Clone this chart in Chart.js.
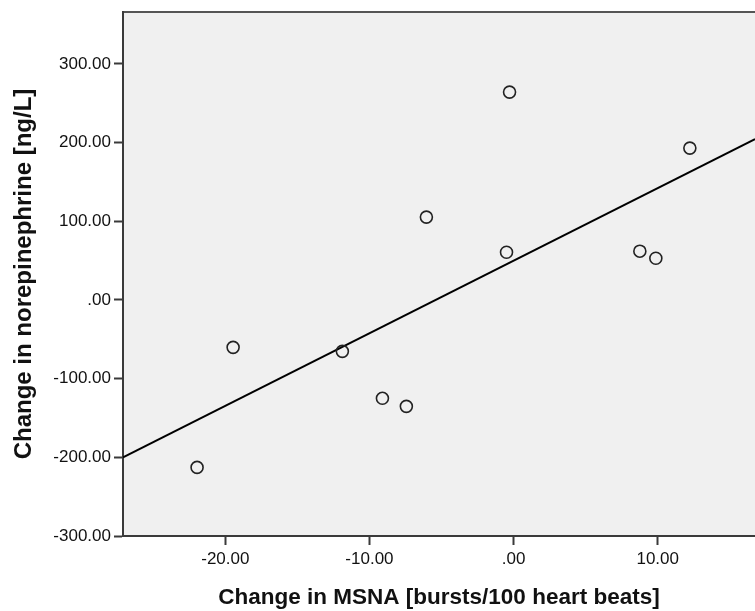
<!DOCTYPE html>
<html lang="en">
    <head>
        <meta charset="UTF-8" />
        <title>MSNA vs norepinephrine</title>
        <script src="https://cdn.jsdelivr.net/npm/chart.js"></script>
        <style>
            html, body { margin: 0; padding: 0; background: #fff; overflow: hidden; }
            canvas { display: block; }
        </style>
    </head>
    <body>
        <canvas id="chart" width="755" height="611"></canvas>
        <script>
            // change in MSNA (bursts/100 heart beats) and norepinephrine (ng/L)
            const msna = [-21.96, -19.46, -11.88, -9.1, -7.44, -6.05, -0.49, -0.28, 8.76, 9.87, 12.23];
            const norepi = [-212.8, -60.2, -65.3, -125, -135.2, 105.3, 60.7, 264.2, 62, 53, 193];
            // fit line end points
            const fitX = [-27.1, 16.75];
            const fitY = [-200, 204.5];
            const xTicks = [-20, -10, 0, 10];
            const yTicks = [-300, -200, -100, 0, 100, 200, 300];

            const fontFamily = "'Liberation Sans', Arial, sans-serif";

            function fmt(v) {
                return v === 0 ? ".00" : v.toFixed(2);
            }

            const plotBg = {
                id: "plotBg",
                beforeDraw(chart) {
                    const { ctx, chartArea: a } = chart;
                    ctx.save();
                    ctx.fillStyle = "#f0f0f0";
                    ctx.fillRect(a.left, a.top, a.right - a.left, a.bottom - a.top);
                    ctx.strokeStyle = "#555";
                    ctx.lineWidth = 2;
                    ctx.beginPath();
                    ctx.moveTo(a.left, a.top);
                    ctx.lineTo(a.right, a.top);
                    ctx.stroke();
                    ctx.restore();
                },
            };

            new Chart(document.getElementById("chart"), {
                type: "scatter",
                data: {
                    datasets: [
                        {
                            data: msna.map((x, i) => ({ x: x, y: norepi[i] })),
                            pointStyle: "circle",
                            pointRadius: 6,
                            pointBorderWidth: 1.6,
                            borderColor: "#222",
                            backgroundColor: "rgba(0,0,0,0)",
                        },
                        {
                            data: fitX.map((x, i) => ({ x: x, y: fitY[i] })),
                            showLine: true,
                            borderColor: "#000",
                            borderWidth: 2,
                            pointRadius: 0,
                        },
                    ],
                },
                plugins: [plotBg],
                options: {
                    responsive: false,
                    animation: false,
                    events: [],
                    layout: {
                        autoPadding: false,
                        padding: { top: 12, left: 0, right: 0, bottom: 0 },
                    },
                    plugins: {
                        legend: { display: false },
                        tooltip: { enabled: false },
                    },
                    scales: {
                        x: {
                            type: "linear",
                            min: fitX[0],
                            max: fitX[1],
                            afterBuildTicks: (s) => { s.ticks = xTicks.map((v) => ({ value: v })); },
                            afterFit: (s) => {
                                s.height = 75;
                                s.paddingLeft = 0;
                                s.paddingRight = 0;
                            },
                            grid: { drawOnChartArea: false, tickLength: 9, tickWidth: 2, color: "#3a3a3a" },
                            border: { color: "#3a3a3a", width: 2 },
                            ticks: {
                                padding: 4,
                                color: "#111",
                                font: { family: fontFamily, size: 17 },
                                callback: (v) => fmt(v),
                                maxRotation: 0,
                            },
                            title: {
                                display: true,
                                text: "Change in MSNA [bursts/100 heart beats]",
                                color: "#111",
                                font: { family: fontFamily, size: 22.5, weight: "bold" },
                                padding: { top: 0, bottom: 0 },
                            },
                        },
                        y: {
                            min: -300,
                            max: 366,
                            afterBuildTicks: (s) => { s.ticks = yTicks.map((v) => ({ value: v })); },
                            afterFit: (s) => {
                                s.width = 123;
                                s.paddingTop = 0;
                                s.paddingBottom = 0;
                            },
                            grid: { drawOnChartArea: false, tickLength: 9, tickWidth: 2, color: "#3a3a3a" },
                            border: { color: "#3a3a3a", width: 2 },
                            ticks: {
                                padding: 3,
                                color: "#111",
                                font: { family: fontFamily, size: 17 },
                                callback: (v) => fmt(v),
                            },
                            title: {
                                display: true,
                                text: "Change in norepinephrine [ng/L]",
                                color: "#111",
                                font: { family: fontFamily, size: 24, weight: "bold" },
                                padding: { top: 10, bottom: 0 },
                            },
                        },
                    },
                },
            });
        </script>
    </body>
</html>
